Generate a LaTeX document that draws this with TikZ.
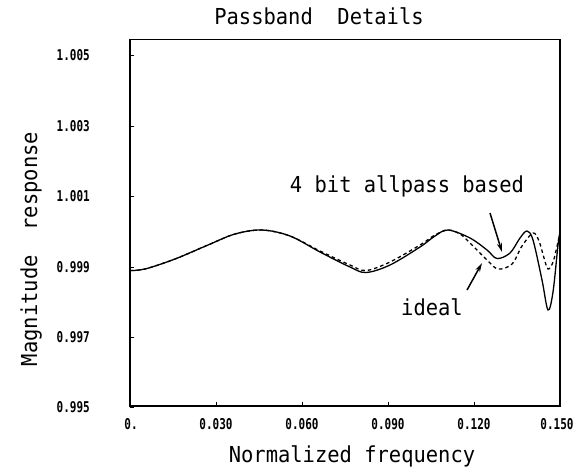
\documentclass[tikz,border=0pt]{standalone}
\usepackage{fontspec}
\setmonofont{DejaVu Sans Mono}
\usetikzlibrary{arrows.meta}
\tikzset{
  bigtxt/.style={font=\ttfamily\fontsize{22}{22}\selectfont, inner sep=0pt},
  ticktxt/.style={font=\ttfamily\bfseries\fontsize{11}{11}\selectfont, inner sep=0pt},
  axisbox/.style={line width=1.8pt},
  tickmark/.style={line width=1pt},
  curvefour/.style={line width=1.3pt},
  curveideal/.style={line width=1.3pt, dash pattern=on 3.5pt off 3pt},
  pointer/.style={line width=1.5pt, -{Stealth[length=9pt,width=5pt]}}
}
\newcommand{\wide}[1]{\scalebox{0.93}[1]{#1}}
\newcommand{\tall}[1]{\scalebox{1}[1.35]{#1}}
\begin{document}
\begin{tikzpicture}[x=1pt,y=-1pt]
\useasboundingbox (0,0) rectangle (583,469);
% axes box
\draw[axisbox] (130,39.5) rectangle (560,406);
% y ticks and labels
\foreach \yy/\lab in {55/1.005,126/1.003,196/1.001,267/0.999,337/0.997,407/0.995}{
  \draw[tickmark] (130,\yy) -- (134,\yy);
  \node[ticktxt, anchor=east] at (90,\yy) {\tall{\lab}};
}
% x ticks and labels
\foreach \xx/\lab in {216/0.030,302/0.060,388/0.090,474/0.120}{
  \draw[tickmark] (\xx,406) -- (\xx,402);
  \node[ticktxt] at (\xx,424) {\tall{\lab}};
}
\node[ticktxt] at (131,424) {\tall{0.}};
\node[ticktxt] at (557,424) {\tall{0.150}};
% titles
\node[bigtxt, anchor=base] (title) at (319,24) {\wide{Passband\ \ Details}};
\node[bigtxt, anchor=base] (xlab) at (352,462) {\wide{Normalized frequency}};
\node[bigtxt, anchor=base, rotate=90] (ylab) at (37,249) {\wide{Magnitude\ \ response}};
% curves
\draw[curvefour] plot[smooth, tension=0.55] coordinates {
 (130,270.5) (145,269) (175,259) (208,245) (235,234) (262,230) (290,236)
 (320,252) (350,267) (366,272.5) (390,265) (420,247) (435,236) (448,230)
 (470,238) (487,250) (497,258.5) (510,253) (520,238) (527,231) (533,240)
 (542,280) (548,310) (553,292) (558,245) (560,232)};
\draw[curveideal] plot[smooth, tension=0.55] coordinates {
 (130,270.5) (145,269) (175,259) (208,245) (235,234) (262,230) (290,236)
 (320,251) (350,265) (366,270.5) (390,262) (420,245) (435,235) (448,230)
 (460,234) (470,243) (487,260) (498,269) (512,264) (522,246) (533,233)
 (539,241) (544,258) (548,269) (553,262) (558,242) (560,232)};
% labels and pointers
\node[bigtxt, anchor=base] (four) at (407,192) {\wide{4 bit allpass based}};
\node[bigtxt, anchor=base] (ideal) at (432,315) {\wide{ideal}};
\coordinate (fourtail) at (490,213);
\coordinate (fourhead) at (502,252);
\coordinate (idealtail) at (467,290);
\coordinate (idealhead) at (482,263);
\draw[pointer] (fourtail) -- (fourhead);
\draw[pointer] (idealtail) -- (idealhead);
\end{tikzpicture}
\end{document}
